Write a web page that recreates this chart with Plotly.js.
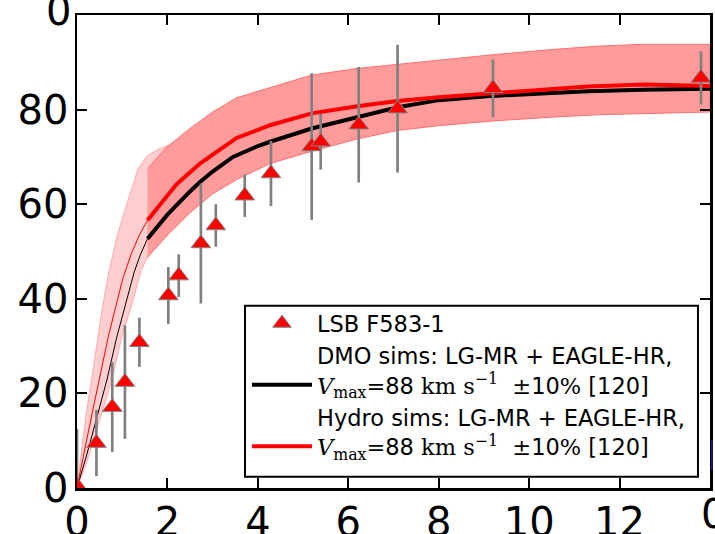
<!DOCTYPE html>
<html>
<head>
<meta charset="utf-8">
<script src="https://cdn.plot.ly/plotly-3.0.1.min.js"></script>
<style>html,body{margin:0;padding:0;background:#fff;}#chart{width:715px;height:534px;}</style>
</head>
<body>
<div id="chart"></div>
<script>
// Observed rotation curve: LSB F583-1
const obsR   = [0.0, 0.43, 0.78, 1.06, 1.38, 2.02, 2.25, 2.74, 3.07, 3.71, 4.29, 5.19, 5.39, 6.23, 7.09, 9.2, 13.8];
const obsV   = [0.5, 9.5, 17.1, 22.4, 30.8, 40.7, 44.9, 51.7, 55.5, 61.8, 66.5, 72.2, 73.2, 76.8, 80.2, 84.5, 86.7];
const obsErr = [12, 7, 9.5, 12, 5.2, 6, 4.5, 12.7, 4.5, 4.5, 6.9, 15.5, 5.9, 12.2, 13.5, 6.1, 5.6];

// DMO median curve (thin inside convergence radius, thick outside)
const dmoInR  = [0, 0.1, 0.2, 0.4, 0.66, 0.88, 1.1, 1.26, 1.4, 1.56];
const dmoInV  = [0, 3.2, 6.5, 13.5, 22.8, 31.9, 39.7, 45.5, 49.3, 52.7];
const dmoOutR = [1.56, 2.0, 2.5, 2.72, 3.0, 3.45, 4.0, 4.27, 5.19, 6.2, 7.09, 8.0, 9.2, 10.5, 11.3, 12.5, 14.0];
const dmoOutV = [52.7, 57.8, 62.7, 64.7, 66.9, 70.0, 72.3, 73.2, 76.0, 78.4, 80.5, 82.0, 82.9, 83.5, 83.9, 84.2, 84.4];

// Hydro median curve
const hydInR  = [0, 0.1, 0.2, 0.35, 0.5, 0.69, 0.88, 1.02, 1.2, 1.38, 1.56];
const hydInV  = [0, 5.0, 9.5, 16.5, 23.5, 31.9, 39.2, 44.5, 49.5, 53.5, 56.6];
const hydOutR = [1.56, 2.0, 2.2, 2.72, 3.0, 3.53, 4.27, 5.19, 6.2, 7.09, 8.0, 9.2, 10.5, 11.3, 12.55, 14.0];
const hydOutV = [56.6, 61.8, 64.2, 68.6, 70.5, 74.0, 76.7, 79.2, 80.7, 81.8, 82.6, 83.5, 84.4, 84.9, 85.3, 85.0];

// Hydro scatter band: inner (light) and outer (dark) parts
const bandInR   = [0, 0.1, 0.2, 0.32, 0.43, 0.56, 0.69, 0.88, 1.05, 1.2, 1.35, 1.56, 1.8, 2.0];
const bandInHi  = [0, 8.0, 15.5, 22.8, 30.0, 38.0, 45.0, 53.0, 58.5, 63.0, 67.5, 70.3, 71.6, 72.4];
const bandInLoR = [0, 0.2, 0.4, 0.6, 0.77, 0.99, 1.24, 1.42, 1.56, 2.0];
const bandInLo  = [0, 5.0, 11.0, 17.5, 22.8, 31.9, 39.7, 46.0, 48.8, 53.5];
const bandOutR  = [1.56, 2.0, 2.5, 3.0, 3.53, 4.27, 5.19, 6.2, 7.09, 8.0, 9.2, 10.5, 11.5, 12.5, 14.0];
const bandOutHi = [67.5, 72.2, 76.0, 79.5, 82.5, 84.6, 87.3, 88.7, 89.6, 90.4, 91.6, 92.7, 93.4, 93.8, 93.8];
const bandOutLo = [48.8, 53.5, 58.2, 62.2, 65.2, 68.6, 71.2, 73.8, 75.6, 76.6, 77.6, 78.4, 78.9, 79.2, 79.5];

const xTicks = [0, 2, 4, 6, 8, 10, 12, 14];
const xTickText = ['0', '2', '4', '6', '8', '10', '12', ''];
const yTicks = [0, 20, 40, 60, 80, 100];
const yTickText = ['0', '20', '40', '60', '80', ''];

const serif = "font-family:'DejaVu Serif'";
const vmaxLabel = `<span style="${serif}"><i>V</i><sub>max</sub>=</span>88 <span style="${serif}">km s<sup>−1</sup></span>  <span style="${serif}">±</span>10<span style="${serif}">%</span> [120]`;

function polygon(xLo, yLo, xHi, yHi) {
  return {x: xHi.concat(xLo.slice().reverse()), y: yHi.concat(yLo.slice().reverse())};
}
const pIn = polygon(bandInLoR, bandInLo, bandInR, bandInHi);
const pOut = polygon(bandOutR, bandOutLo, bandOutR, bandOutHi);

const traces = [
  {x: pIn.x, y: pIn.y, mode: 'lines', fill: 'toself', fillcolor: 'rgb(255,206,206)',
   line: {color: 'rgb(255,170,170)', width: 1}, showlegend: false, hoverinfo: 'skip'},
  {x: pOut.x, y: pOut.y, mode: 'lines', fill: 'toself', fillcolor: 'rgb(255,155,155)',
   line: {color: 'rgb(255,110,110)', width: 1}, showlegend: false, hoverinfo: 'skip'},
  {x: dmoInR, y: dmoInV, mode: 'lines', line: {color: 'black', width: 1}, showlegend: false},
  {x: hydInR, y: hydInV, mode: 'lines', line: {color: 'red', width: 1}, showlegend: false},
  {x: dmoOutR, y: dmoOutV, mode: 'lines', line: {color: 'black', width: 4},
   name: 'DMO sims: LG-MR + EAGLE-HR,<br>' + vmaxLabel, legendrank: 2},
  {x: hydOutR, y: hydOutV, mode: 'lines', line: {color: 'red', width: 4},
   name: 'Hydro sims: LG-MR + EAGLE-HR,<br>' + vmaxLabel, legendrank: 3},
  {x: obsR, y: obsV, mode: 'markers', name: 'LSB F583-1', legendrank: 1,
   marker: {symbol: 'triangle-up', size: 17, color: 'red', line: {color: 'gray', width: 1}},
   error_y: {type: 'data', array: obsErr, visible: true, color: 'gray', thickness: 2.7, width: 0}}
];

const axisCommon = {
  ticks: 'inside', ticklen: 10, tickwidth: 2, tickcolor: 'black',
  showline: true, linewidth: 2.5, linecolor: 'black', mirror: 'ticks',
  showgrid: false, zeroline: false,
  tickfont: {family: 'DejaVu Sans', size: 40, color: 'black'}
};

const layout = {
  width: 715, height: 534,
  margin: {l: 77, r: 5, t: 15, b: 46},
  paper_bgcolor: 'white', plot_bgcolor: 'white',
  xaxis: Object.assign({}, axisCommon, {range: [0, 14], tickvals: xTicks, ticktext: xTickText, ticklabelstandoff: -3}),
  yaxis: Object.assign({}, axisCommon, {range: [0, 100], tickvals: yTicks, ticktext: yTickText, ticklabelstandoff: -2}),
  showlegend: true,
  legend: {
    x: 0.2685, y: 0.3930, xanchor: 'left', yanchor: 'top',
    bgcolor: 'rgba(0,0,0,0)', borderwidth: 0,
    font: {family: 'DejaVu Sans', size: 22.5, color: 'black'},
    valign: 'bottom', itemwidth: 60, tracegroupgap: 0
  },
  annotations: [
    {xref: 'paper', yref: 'paper', x: -0.030, y: 1.0095, text: '0', showarrow: false,
     xanchor: 'center', yanchor: 'middle', font: {family: 'DejaVu Sans', size: 40, color: 'black'}},
    {xref: 'paper', yref: 'paper', x: 1.006, y: -0.055, text: '0', showarrow: false,
     xanchor: 'center', yanchor: 'middle', font: {family: 'DejaVu Sans', size: 40, color: 'black'}}
  ],
  shapes: [
    {type: 'rect', xref: 'paper', yref: 'paper', x0: 0.2654, x1: 0.981, y0: 0.0239, y1: 0.3854,
     fillcolor: 'white', line: {color: 'black', width: 2}, layer: 'above'},
    {type: 'line', xref: 'paper', yref: 'paper', x0: 1.0027, x1: 1.0027, y0: 0.038, y1: 0.1015,
     line: {color: '#1a1a80', width: 2}}
  ]
};

Plotly.newPlot('chart', traces, layout, {displayModeBar: false, staticPlot: true});
</script>
</body>
</html>
